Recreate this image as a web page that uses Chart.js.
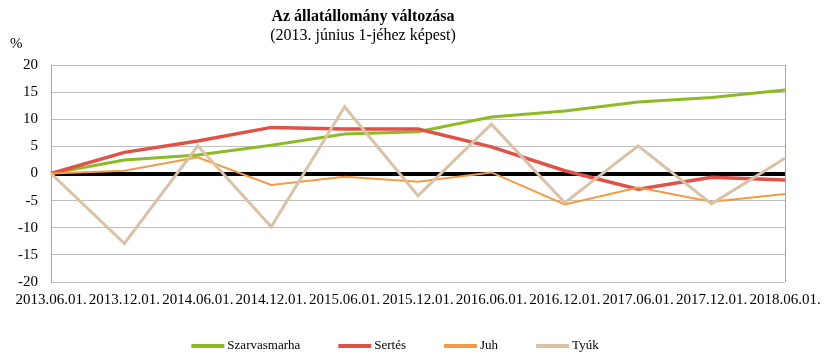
<!DOCTYPE html>
<html><head><meta charset="utf-8">
<script src="https://cdn.jsdelivr.net/npm/chart.js@4/dist/chart.umd.min.js"></script>
<style>html,body{margin:0;padding:0;background:#fff}#wrap{width:838px;height:360px}</style>
</head><body><div id="wrap"><canvas id="c" width="838" height="360"></canvas></div>
<script>
const categories = ["2013.06.01.","2013.12.01.","2014.06.01.","2014.12.01.","2015.06.01.","2015.12.01.","2016.06.01.","2016.12.01.","2017.06.01.","2017.12.01.","2018.06.01."];
const szarvasmarha = [0, 2.5, 3.4, 5.2, 7.3, 7.7, 10.4, 11.5, 13.2, 14.0, 15.4];
const sertes = [0, 3.9, 6.0, 8.5, 8.2, 8.2, 4.9, 0.5, -2.9, -0.7, -1.2];
const juh = [0, 0.5, 3.0, -2.1, -0.6, -1.5, 0.2, -5.7, -2.6, -5.2, -3.8];
const tyuk = [0, -12.9, 5.1, -9.8, 12.3, -4.1, 9.1, -5.4, 5.1, -5.6, 2.8];
const yTicks = [-20, -15, -10, -5, 0, 5, 10, 15, 20];
const titleText = "Az állatállomány változása";
const subtitleText = "(2013. június 1-jéhez képest)";
const unitText = "%";

const serif = "'Liberation Serif', 'Times New Roman', serif";

const decor = {
  id: 'decor',
  afterDraw(chart) {
    const ctx = chart.ctx;
    ctx.save();
    ctx.fillStyle = '#000';
    ctx.textAlign = 'center';
    ctx.textBaseline = 'middle';
    ctx.font = 'bold 16px ' + serif;
    ctx.fillText(titleText, 363, 17);
    ctx.font = '16px ' + serif;
    ctx.fillText(subtitleText, 363, 36);
    ctx.textAlign = 'left';
    ctx.font = '15px ' + serif;
    ctx.fillText(unitText, 10, 44);
    // legend
    const ds = chart.data.datasets;
    ctx.font = '13px ' + serif;
    const boxW = 33, gapText = 3, gapItem = 38;
    let total = 0;
    const widths = ds.map(d => ctx.measureText(d.label).width);
    widths.forEach((w, i) => { total += boxW + gapText + w + (i < ds.length - 1 ? gapItem : 0); });
    let x = 395 - total / 2;
    const y = 346;
    ds.forEach((d, i) => {
      ctx.strokeStyle = d.borderColor;
      ctx.lineWidth = 4;
      ctx.beginPath();
      ctx.moveTo(x, y);
      ctx.lineTo(x + boxW, y);
      ctx.stroke();
      ctx.fillStyle = '#000';
      ctx.textBaseline = 'middle';
      ctx.fillText(d.label, x + boxW + gapText, y);
      x += boxW + gapText + widths[i] + gapItem;
    });
    ctx.restore();
  }
};

new Chart(document.getElementById('c'), {
  type: 'line',
  data: {
    labels: categories,
    datasets: [
      {label: 'Szarvasmarha', data: szarvasmarha, borderColor: '#8CBB25', borderWidth: 3, pointRadius: 0, tension: 0, order: 4},
      {label: 'Sertés', data: sertes, borderColor: '#E0514A', borderWidth: 3.5, pointRadius: 0, tension: 0, order: 3},
      {label: 'Juh', data: juh, borderColor: '#F29A45', borderWidth: 2, pointRadius: 0, tension: 0, order: 2},
      {label: 'Tyúk', data: tyuk, borderColor: '#D9C2A6', borderWidth: 3, pointRadius: 0, tension: 0, order: 1}
    ]
  },
  options: {
    responsive: false,
    animation: false,
    layout: {padding: {top: 65, right: 53, bottom: 0, left: 0}},
    plugins: {legend: {display: false}, title: {display: false}, tooltip: {enabled: false}},
    scales: {
      x: {
        offset: false,
        grid: {
          drawTicks: false,
          color: (c) => c.index === categories.length - 1 ? '#A6A6A6' : 'rgba(0,0,0,0)',
          lineWidth: 1
        },
        border: {display: false},
        ticks: {autoSkip: false, maxRotation: 0, minRotation: 0, padding: 9, color: '#000', font: {family: serif, size: 15}},
        afterFit: (s) => { s.height = 78; }
      },
      y: {
        min: -20, max: 20,
        afterBuildTicks: (s) => { s.ticks = yTicks.map(v => ({value: v})); },
        grid: {
          drawTicks: false,
          color: (c) => c.tick && c.tick.value === 0 ? '#000' : '#BFBFBF',
          lineWidth: (c) => c.tick && c.tick.value === 0 ? 4 : 1
        },
        border: {display: true, color: '#A6A6A6', width: 1},
        ticks: {padding: 13, color: '#000', font: {family: serif, size: 15}},
        afterFit: (s) => { s.width = 51; }
      }
    }
  },
  plugins: [decor]
});
</script></body></html>
